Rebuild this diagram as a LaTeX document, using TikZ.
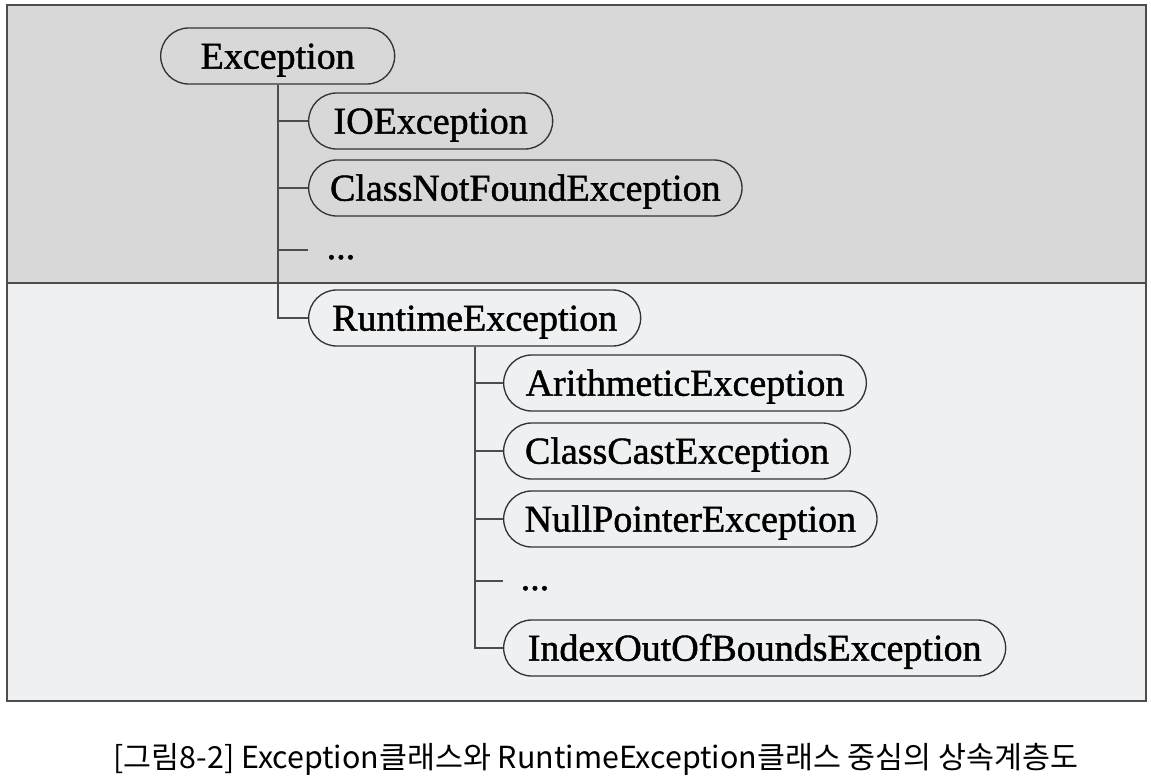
\documentclass[tikz,border=0pt]{standalone}
\usepackage{fontspec}
\setmainfont{Liberation Serif}
\newfontface\nodefont{Liberation Serif}[FakeBold=1.2]
\newfontfamily\krfont{Noto Sans CJK KR}
\usetikzlibrary{shapes.misc}
\definecolor{topgray}{RGB}{216,216,216}
\definecolor{lowgray}{RGB}{239,240,241}
\definecolor{linegray}{RGB}{77,77,77}

\begin{document}
\begin{tikzpicture}[x=0.75pt,y=0.75pt,yscale=-1,
  pill/.style={draw=black!80, line width=1pt, rounded rectangle, minimum height=42pt,
    minimum width=#1, inner xsep=0pt, anchor=west, text height=24pt, text depth=5pt,
    font=\nodefont\fontsize{28.5}{30}\selectfont},
  dots/.style={anchor=base west, font=\nodefont\fontsize{28.5}{30}\selectfont},
  branch/.style={draw=linegray, line width=1.5pt}]
\useasboundingbox (0,0) rectangle (1151,778);
\fill[white] (0,0) rectangle (1151,778);

% panels
\fill[topgray] (7,5) rectangle (1146,283);
\fill[lowgray] (7,283) rectangle (1146,701);
\draw[linegray, line width=1.5pt] (7,283) -- (1146,283);
\draw[linegray, line width=2pt] (7,5) rectangle (1146,701);

% Exception and its subclasses
\node[pill=175.5pt] (exc) at (160,56) {Exception};
\node[pill=183pt] (io) at (308,121) {IOException};
\node[pill=325pt] (cnf) at (308,188) {ClassNotFoundException};
\coordinate (tick1) at (308,250);
\node[dots] (dots1) at (322,259) {...};
\node[pill=249pt] (rt) at (308,318) {RuntimeException};

% RuntimeException and its subclasses
\node[pill=272pt] (arith) at (503,383) {ArithmeticException};
\node[pill=260pt] (cast) at (503,451) {ClassCastException};
\node[pill=280pt] (npe) at (503,519) {NullPointerException};
\coordinate (tick2) at (503,581);
\node[dots] (dots2) at (516,590) {...};
\node[pill=376.5pt] (ioob) at (503,648) {IndexOutOfBoundsException};

% connectors
\draw[branch] (exc.south) |- (io.west);
\draw[branch] (exc.south) |- (cnf.west);
\draw[branch] (exc.south) |- (tick1);
\draw[branch] (exc.south) |- (rt.west);
\draw[branch] (rt.south) |- (arith.west);
\draw[branch] (rt.south) |- (cast.west);
\draw[branch] (rt.south) |- (npe.west);
\draw[branch] (rt.south) |- (tick2);
\draw[branch] (rt.south) |- (ioob.west);

% caption
\node[font=\krfont\fontsize{22.8}{26}\selectfont] (caption) at (596,759)
  {[그림8-2] Exception클래스와 RuntimeException클래스 중심의 상속계층도};
\end{tikzpicture}
\end{document}
